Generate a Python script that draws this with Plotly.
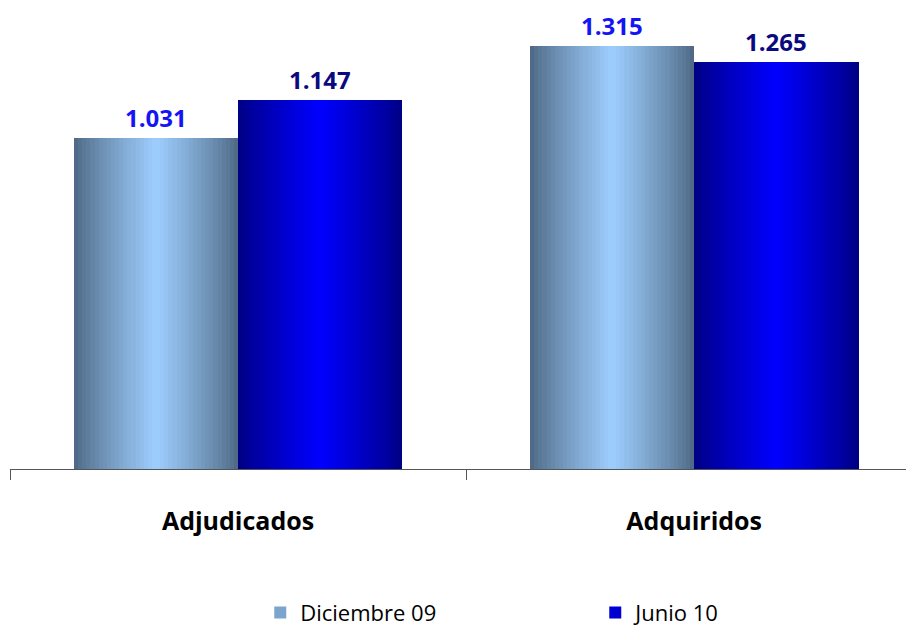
import plotly.graph_objects as go

categories = ["Adjudicados", "Adquiridos"]
series_names = ["Diciembre 09", "Junio 10"]
dic09 = [1031, 1315]
jun10 = [1147, 1265]

values = [dic09, jun10]
edge_colors = [(76, 103, 130), (0, 0, 128)]
center_colors = [(158, 206, 255), (0, 0, 255)]
legend_colors = ["#7CA5CE", "#0000D0"]
label_colors = ["#1414F5", "#0A0A80"]

BAR_W = 0.3596          # fraction of category width per bar
N = 40                  # gradient slices per bar
PLOT_W = 904
X_RANGE = [-0.5, 1.482]
cat_px = PLOT_W / (X_RANGE[1] - X_RANGE[0])

def mix(c0, c1, t):
    return "rgb(%d,%d,%d)" % tuple(round(a + (b - a) * t) for a, b in zip(c0, c1))

fig = go.Figure()
for s, (name, vals) in enumerate(zip(series_names, values)):
    start = -BAR_W if s == 0 else 0.0
    sw = BAR_W / N
    for i in range(N):
        u = (i + 0.5) / N
        t = 1 - abs(2 * u - 1)
        t = t ** 0.85
        fig.add_trace(go.Bar(
            x=categories, y=vals, width=sw * 1.08, offset=start + i * sw,
            marker=dict(color=mix(edge_colors[s], center_colors[s], t), line=dict(width=0)),
            name=name, legendgroup=name, showlegend=False, hoverinfo="skip",
        ))
    # legend entry
    fig.add_trace(go.Bar(
        x=categories, y=[None, None], name=name, legendgroup=name, showlegend=True,
        marker=dict(color=legend_colors[s], line=dict(width=0)),
    ))
    # value labels
    for c, v in zip(categories, vals):
        fig.add_annotation(
            x=c, y=v, xref="x", yref="y",
            text="<b>" + f"{v:,}".replace(",", ".") + "</b>",
            showarrow=False, yanchor="bottom", borderpad=0,
            xshift=(start + BAR_W / 2) * cat_px, yshift=3,
            font=dict(family="Open Sans", size=24, color=label_colors[s]),
        )

fig.update_layout(
    width=914, height=630,
    margin=dict(l=2, r=8, t=11, b=169),
    paper_bgcolor="white", plot_bgcolor="white",
    barmode="overlay", bargap=0,
    showlegend=True,
    legend=dict(
        orientation="h", xref="container", yref="container",
        x=0.276, y=0.040, xanchor="left", yanchor="middle",
        font=dict(family="Open Sans", size=22, color="#000000"),
        entrywidth=290, entrywidthmode="pixels", itemwidth=30,
        traceorder="normal",
    ),
    font=dict(family="Open Sans"),
)
fig.update_xaxes(
    type="category", range=X_RANGE, showline=True, linecolor="#555555", linewidth=1.3,
    ticks="outside", tickson="boundaries", ticklen=10, tickcolor="#555555", tickwidth=1.3,
    showgrid=False, zeroline=False,
    tickfont=dict(family="Open Sans", size=25, color="#000000", weight="bold"),
    ticklabelstandoff=30,
)
fig.update_yaxes(
    range=[0, 1400], visible=False, showgrid=False, zeroline=False,
)

fig.write_html("out.html")
